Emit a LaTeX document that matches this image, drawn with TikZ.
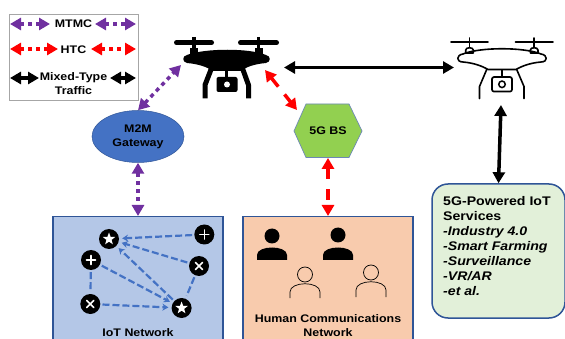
\documentclass[tikz,border=0pt]{standalone}
\usepackage{fontspec}
\setmainfont[FakeStretch=1.13]{Liberation Sans}
\usepackage{tikz}
\usetikzlibrary{positioning}
\usetikzlibrary{arrows.meta}
\usetikzlibrary{shapes.geometric}
\definecolor{mtmccolor}{HTML}{7030A0}
\definecolor{htccolor}{HTML}{FF0000}
\definecolor{linkblue}{HTML}{4472C4}
\definecolor{frameblue}{HTML}{2F5597}
\definecolor{iotfill}{HTML}{B4C7E7}
\definecolor{humanfill}{HTML}{F8CBAD}
\definecolor{servicefill}{HTML}{E2F0D9}
\definecolor{bsfill}{HTML}{92D050}
\tikzset{
    bigtips/.style={{Triangle[length=11pt,width=12pt]}-{Triangle[length=11pt,width=12pt]}},
    mtmc/.style={bigtips,color=mtmccolor,line width=3.5pt,dash pattern=on 4pt off 4pt},
    htc/.style={bigtips,color=htccolor,line width=3.5pt,dash pattern=on 4pt off 4pt},
    htclong/.style={htc,dash pattern=on 11pt off 10pt},
    mixed/.style={bigtips,color=black,line width=3.5pt},
    label text/.style={font=\bfseries\fontsize{11}{14}\selectfont,align=center,inner sep=0pt},
    netbox/.style={draw=frameblue,line width=1.5pt,minimum width=170pt,minimum height=140pt,anchor=north},
    iotnode/.style={circle,fill=black,minimum size=20pt,inner sep=0pt},
    plusnode/.style={iotnode,path picture={
            \draw [white,line width=1.6pt,line cap=round] (path picture bounding box.center)
                +(-4.5,0) -- +(4.5,0) +(0,-4.5) -- +(0,4.5);}},
    crossnode/.style={iotnode,path picture={
            \draw [white,line width=1.6pt,line cap=round] (path picture bounding box.center)
                +(-3.5,-3.5) -- +(3.5,3.5) +(-3.5,3.5) -- +(3.5,-3.5);}},
    starnode/.style={iotnode,path picture={
            \node [star,star points=5,star point ratio=2.4,fill=white,minimum size=13pt,inner sep=0pt]
                at (path picture bounding box.center) {};}},
    iotlink/.style={draw=linkblue,line width=2.2pt,dash pattern=on 7pt off 3pt,shorten <=2pt,shorten >=3pt},
    iotarrow/.style={iotlink,-{Stealth[length=6pt,width=7pt]}},
    personline/.style={draw=black,line width=0.7pt},
    droneline/.style={draw=black,line width=1.6pt,line cap=round,line join=round}
}

\begin{document}
\begin{tikzpicture}[x=1pt,y=-1pt]
    \clip (0,0) rectangle (565,339);

    % legend
    \node (legend) at (73.5,57.5) [draw=black!35,line width=0.8pt,minimum width=129pt,minimum height=86pt] {};
    \node (mtmclabel) at (73.5,23.5) [label text] {MTMC};
    \node (htclabel) at (73.5,50) [label text] {HTC};
    \node (mixedlabel) at (73.5,84) [label text] {Mixed-Type\\Traffic};
    \coordinate (mtmc1) at (10,24);
    \coordinate (mtmc2) at (50,24);
    \coordinate (mtmc3) at (95,24);
    \coordinate (mtmc4) at (136,24);
    \coordinate (htc1) at (10,49);
    \coordinate (htc2) at (58,49);
    \coordinate (htc3) at (91,49);
    \coordinate (htc4) at (136,49);
    \coordinate (mixed1) at (10,78);
    \coordinate (mixed2) at (39,78);
    \coordinate (mixed3) at (110,78);
    \coordinate (mixed4) at (136,78);
    \draw [mtmc] (mtmc1) -- (mtmc2);
    \draw [mtmc] (mtmc3) -- (mtmc4);
    \draw [htc] (htc1) -- (htc2);
    \draw [htc] (htc3) -- (htc4);
    \draw [mixed] (mixed1) -- (mixed2);
    \draw [mixed] (mixed3) -- (mixed4);

    % black drone
    \draw [line width=5pt,line cap=round] (176.5,42.7) -- (211.5,42.7);
    \draw [line width=5pt,line cap=round] (240.5,42.7) -- (276.5,42.7);
    \draw [line width=3.3pt] (194,37) -- (194,52);
    \draw [line width=3.3pt] (258.7,37) -- (258.7,52);
    \fill (190,48) rectangle (198,56);
    \fill (254.7,48) rectangle (262.7,56);
    \fill (187,55) .. controls (205,48) and (250,48) .. (266,55)
        .. controls (271,56) and (271,62) .. (266,63) .. controls (255,64) and (245,67) .. (242,71)
        -- (212,71) .. controls (208,67) and (198,64) .. (187,63)
        .. controls (182,62) and (182,56) .. (187,55) -- cycle;
    \draw [line width=5pt,line join=round] (212,67) -- (205,85) -- (205,98.5);
    \draw [line width=5pt,line join=round] (242,67) -- (248.5,85) -- (248.5,98.5);
    \draw [line width=3pt] (226.7,70) -- (226.7,78);
    \node (cama) at (227,84.5) [rounded corners=2pt,fill=black,minimum width=21pt,minimum height=15pt,inner sep=0pt] {};
    \fill [white] (cama.center) circle (3pt);

    % white drone
    \draw [droneline] (451,42.3) -- (488,42.3);
    \draw [droneline] (515.5,42.3) -- (553,42.3);
    \draw [droneline] (469.5,38) -- (469.5,48);
    \draw [droneline] (534,38) -- (534,48);
    \draw [droneline,fill=white] (465.7,53) -- (465.7,50) .. controls (465.7,47) and (473.3,47) .. (473.3,50) -- (473.3,53) -- cycle;
    \draw [droneline,fill=white] (530.3,53) -- (530.3,50) .. controls (530.3,47) and (538,47) .. (538,50) -- (538,53) -- cycle;
    \draw [droneline] (463,54) .. controls (480,47) and (524,47) .. (541,54)
        .. controls (548,55) and (548,62) .. (541,62) .. controls (530,63) and (522,66) .. (516,69.5)
        -- (488,69.5) .. controls (482,66) and (474,63) .. (463,62)
        .. controls (456,62) and (456,55) .. (463,54) -- cycle;
    \draw [droneline] (486.7,69.5) -- (479.5,86.5) -- (479.5,98.5);
    \draw [droneline] (516.7,69.5) -- (524,86.5) -- (524,98.5);
    \draw [droneline] (501.7,70) -- (501.7,77);
    \node (camb) at (502,84.3) [draw=black,line width=1.7pt,rounded corners=2pt,minimum width=20pt,minimum height=14.5pt,inner sep=0pt] {};
    \node (lensb) at (camb.center) [circle,draw=black,line width=1.5pt,minimum size=6.5pt,inner sep=0pt] {};

    % gateway and base station
    \node (gateway) at (138,136.5) [ellipse,fill=linkblue,draw=frameblue,line width=0.5pt,minimum width=92pt,minimum height=52pt,inner sep=0pt,label text] {M2M\\Gateway};
    \draw [fill=bsfill,draw=frameblue!70,line width=0.7pt] (294,131) -- (306,104) -- (349,104) -- (362,131) -- (349,157.5) -- (306,157.5) -- cycle;
    \node (bs) at (328,131) [minimum width=68pt,minimum height=53.5pt,label text] {5G BS};

    % networks
    \node (iotnet) at (138,216) [netbox,fill=iotfill] {};
    \node (humannet) at (328,216) [netbox,fill=humanfill] {};
    \node (iotlabel) at (138,333) [label text] {IoT Network};
    \node (humanlabel) at (328,326) [label text] {Human Communications\\Network};

    % services
    \node (services) at (498.5,251) [rounded corners=16pt,draw=frameblue,line width=1.5pt,fill=servicefill,minimum width=133pt,minimum height=134pt] {};
    \node (servicestext) at (443,246) [anchor=west,align=left,inner sep=0pt,font=\bfseries\fontsize{12.5}{15}\selectfont] {5G-Powered IoT\\Services\\\textit{-Industry 4.0}\\\textit{-Smart Farming}\\\textit{-Surveillance}\\\textit{-VR/AR}\\\textit{-et al.}};

    % iot devices
    \node (stara) at (109,239) [starnode] {};
    \node (starb) at (181.6,308) [starnode] {};
    \node (plusa) at (91,260) [plusnode] {};
    \node (plusb) at (204.3,234.5) [plusnode] {};
    \node (crossa) at (90.3,304) [crossnode] {};
    \node (crossb) at (199,266) [crossnode] {};
    \draw [iotarrow] (plusb) -- (stara);
    \draw [iotarrow] (crossb) -- (stara);
    \draw [iotarrow] (starb) -- (stara);
    \draw [iotlink] (crossb) -- (starb);
    \draw [iotlink] (plusa) -- (crossa);
    \draw [iotarrow] (plusa) -- (starb);
    \draw [iotarrow] (crossa) -- (starb);

    % people
    \fill (272,236) circle (7.5pt);
    \fill (257,260) -- (257,255) .. controls (257,245) and (287,245) .. (287,255) -- (287,260) -- cycle;
    \fill (338,235) circle (7.5pt);
    \fill (323,260) -- (323,255) .. controls (323,245) and (353,245) .. (353,255) -- (353,260) -- cycle;
    \draw [personline] (305,274.5) circle (7.5pt);
    \draw [personline] (290,298) -- (290,292) .. controls (290,281) and (320,281) .. (320,292) -- (320,298);
    \draw [personline] (371,272.5) circle (7.5pt);
    \draw [personline] (356,297) -- (356,290) .. controls (356,279) and (386,279) .. (386,290) -- (386,297);

    % links
    \coordinate (droneamtmc) at (181,65);
    \coordinate (droneahtc) at (265,70);
    \coordinate (bsleft) at (297,110);
    \coordinate (dronealeft) at (284,67.5);
    \coordinate (dronebleft) at (454,67.5);
    \coordinate (dronebdown) at (501,105);
    \draw [mtmc] (gateway.north) -- (droneamtmc);
    \draw [mtmc] (gateway.south) -- (iotnet.north);
    \draw [htclong] (droneahtc) -- (bsleft);
    \draw [htclong] (bs.south) -- (humannet.north);
    \draw [mixed] (dronealeft) -- (dronebleft);
    \draw [mixed] (dronebdown) -- (services.north);
\end{tikzpicture}
\end{document}
